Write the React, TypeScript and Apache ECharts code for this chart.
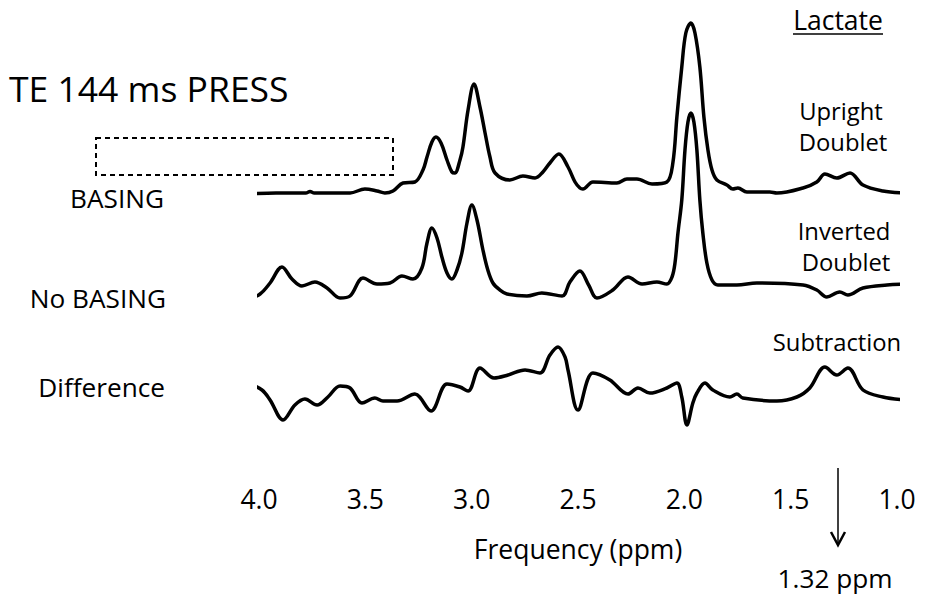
import React, { useEffect, useRef } from "react";
import * as echarts from "echarts";

// ppm axis ticks
const ppmMin = 1.0;
const ppmMax = 4.0;
const ppmStep = 0.5;

// Spectra: [ppm, intensity (a.u.)]
const basingSpectrum: [number, number][] = [
  [4.056, -1], [3.92, 0], [3.78, 0], [3.76, 1.5], [3.74, 0], [3.6, 0], [3.572, 0],
  [3.502, 4], [3.445, 2], [3.408, 0], [3.37, 2], [3.323, 10], [3.267, 11], [3.229, 23],
  [3.21, 36], [3.187, 51], [3.168, 56], [3.144, 50], [3.116, 33], [3.093, 21], [3.079, 20],
  [3.055, 33], [3.041, 46], [3.017, 83], [2.989, 109], [2.961, 86], [2.937, 60], [2.914, 36],
  [2.89, 20], [2.82, 13], [2.759, 17], [2.702, 15], [2.665, 21], [2.632, 30], [2.59, 39],
  [2.547, 26], [2.514, 11], [2.491, 5], [2.477, 4], [2.43, 11], [2.317, 10], [2.27, 14],
  [2.223, 14], [2.152, 9], [2.082, 11], [2.054, 30], [2.035, 76], [2.012, 126], [1.993, 160],
  [1.969, 170], [1.95, 160], [1.927, 126], [1.908, 76], [1.889, 43], [1.87, 23], [1.847, 13],
  [1.8, 8], [1.772, 4], [1.748, 5], [1.706, 1], [1.598, 1], [1.565, 0], [1.442, 5],
  [1.377, 11], [1.339, 19], [1.283, 15], [1.221, 20], [1.16, 8], [1.066, 2], [0.972, 0],
];

const noBasingSpectrum: [number, number][] = [
  [4.056, -15], [3.995, -9], [3.948, 2], [3.892, 18], [3.845, 6], [3.798, -1], [3.737, 3],
  [3.68, -3], [3.619, -13], [3.572, -11], [3.511, 7], [3.445, 1], [3.384, 2], [3.328, 9],
  [3.276, 6], [3.234, 17], [3.21, 42], [3.187, 57], [3.163, 47], [3.14, 28], [3.116, 12],
  [3.093, 6], [3.069, 15], [3.046, 32], [3.022, 62], [2.999, 80], [2.975, 65], [2.947, 35],
  [2.924, 15], [2.9, 2], [2.867, -5], [2.834, -9], [2.74, -11], [2.67, -8], [2.575, -11],
  [2.538, 3], [2.491, 14], [2.45, 0], [2.411, -13], [2.336, -5], [2.265, 8], [2.199, 1],
  [2.129, 3], [2.082, 1], [2.058, 8], [2.044, 22], [2.03, 52], [2.012, 85], [1.997, 135],
  [1.983, 163], [1.969, 172], [1.955, 163], [1.941, 135], [1.927, 85], [1.913, 52],
  [1.894, 22], [1.87, 5], [1.842, 0], [1.753, 0], [1.659, 2], [1.442, 0], [1.377, -5],
  [1.33, -12], [1.269, -7], [1.231, -10], [1.16, -3], [1.047, 0], [0.949, 1],
];

const differenceSpectrum: [number, number][] = [
  [4.056, 12], [3.986, 5], [3.948, -5], [3.887, -25], [3.831, -10], [3.784, -4], [3.727, -10],
  [3.676, -2], [3.619, 9], [3.572, 7], [3.516, -8], [3.455, -3], [3.417, -6], [3.351, -6],
  [3.267, 1], [3.191, -16], [3.116, 11], [3.055, 8], [3.017, 4], [2.961, 27], [2.895, 17],
  [2.829, 20], [2.749, 25], [2.679, 22], [2.632, 40], [2.594, 48], [2.561, 38], [2.547, 25],
  [2.5, -15], [2.43, 22], [2.35, 15], [2.265, 1], [2.218, 7], [2.162, 2], [2.082, 7],
  [2.035, 12], [2.012, -2], [1.988, -30], [1.96, -8], [1.941, 2], [1.903, 12], [1.866, 5],
  [1.786, -2], [1.753, 1], [1.725, -3], [1.565, -6], [1.471, -2], [1.41, 7], [1.339, 28],
  [1.283, 20], [1.231, 27], [1.16, 5], [1.066, -2], [0.963, -5],
];

const traceNames = ["BASING", "No BASING", "Difference"];
const titleText = "TE 144 ms PRESS";
const lactateTitle = "Lactate";
const rightLabels = [["Upright", "Doublet"], ["Inverted", "Doublet"], ["Subtraction"]];
const xAxisName = "Frequency (ppm)";
const markerLabel = "1.32 ppm";

const FONT = "'Open Sans', 'Noto Sans', sans-serif";

export default function App() {
  const ref = useRef<HTMLDivElement>(null);

  useEffect(() => {
    if (!ref.current) return;
    const chart = echarts.init(ref.current, null, { renderer: "svg" });

    const offsets = [287, 195, 85];
    const spectra = [basingSpectrum, noBasingSpectrum, differenceSpectrum];

    const txt = (text: string, x: number, y: number, size: number, align: string) => ({
      type: "text",
      x,
      y,
      silent: true,
      style: {
        text,
        fill: "#000",
        fontSize: size,
        fontFamily: FONT,
        align,
        verticalAlign: "middle",
      },
    });

    const graphics: any[] = [
      txt(titleText, 9, 88, 35.5, "left"),
      txt(lactateTitle, 838, 20, 26.5, "center"),
      {
        type: "line",
        silent: true,
        shape: { x1: 793, y1: 34, x2: 883, y2: 34 },
        style: { stroke: "#000", lineWidth: 1.5 },
      },
      txt(rightLabels[0][0], 841, 111, 23.8, "center"),
      txt(rightLabels[0][1], 843, 142, 23.8, "center"),
      txt(rightLabels[1][0], 844, 231, 23.8, "center"),
      txt(rightLabels[1][1], 846, 262, 23.8, "center"),
      txt(rightLabels[2][0], 837, 342, 23.8, "center"),
      txt(traceNames[0], 164, 198, 26.2, "right"),
      txt(traceNames[1], 166, 298, 26.2, "right"),
      txt(traceNames[2], 165, 387, 26.2, "right"),
      {
        type: "rect",
        silent: true,
        shape: { x: 96, y: 138, width: 297, height: 37 },
        style: { fill: "none", stroke: "#000", lineWidth: 2, lineDash: [5, 4] },
      },
      {
        type: "line",
        silent: true,
        shape: { x1: 838, y1: 468, x2: 838, y2: 543 },
        style: { stroke: "#000", lineWidth: 1.5 },
      },
      {
        type: "polyline",
        silent: true,
        shape: { points: [[831, 532], [838, 545], [845, 532]] },
        style: { stroke: "#000", lineWidth: 2.5, fill: "none" },
      },
      txt(markerLabel, 835, 578, 26.2, "center"),
    ];

    chart.setOption({
      animation: false,
      backgroundColor: "#fff",
      grid: { left: 259, right: 28, top: 0, height: 480 },
      xAxis: {
        type: "value",
        inverse: true,
        min: ppmMin,
        max: ppmMax,
        interval: ppmStep,
        axisLine: { show: false },
        axisTick: { show: false },
        splitLine: { show: false },
        axisLabel: {
          formatter: (v: number) => v.toFixed(1),
          fontSize: 26.5,
          fontFamily: FONT,
          color: "#000",
          margin: 5,
        },
        name: xAxisName,
        nameLocation: "middle",
        nameGap: 55,
        nameTextStyle: { fontSize: 26.5, fontFamily: FONT, color: "#000" },
      },
      yAxis: { type: "value", min: 0, max: 480, show: false },
      series: spectra.map((s, i) => ({
        type: "line",
        name: traceNames[i],
        data: s.map(([p, v]) => [p, v + offsets[i]]),
        showSymbol: false,
        symbol: "none",
        smooth: 0.35,
        clip: false,
        lineStyle: { color: "#000", width: 3.5 },
      })),
      graphic: graphics,
    });

    return () => chart.dispose();
  }, []);

  return (
    <div
      ref={ref}
      style={{ position: "absolute", left: 0, top: 0, width: 925, height: 600, background: "#fff" }}
    />
  );
}
